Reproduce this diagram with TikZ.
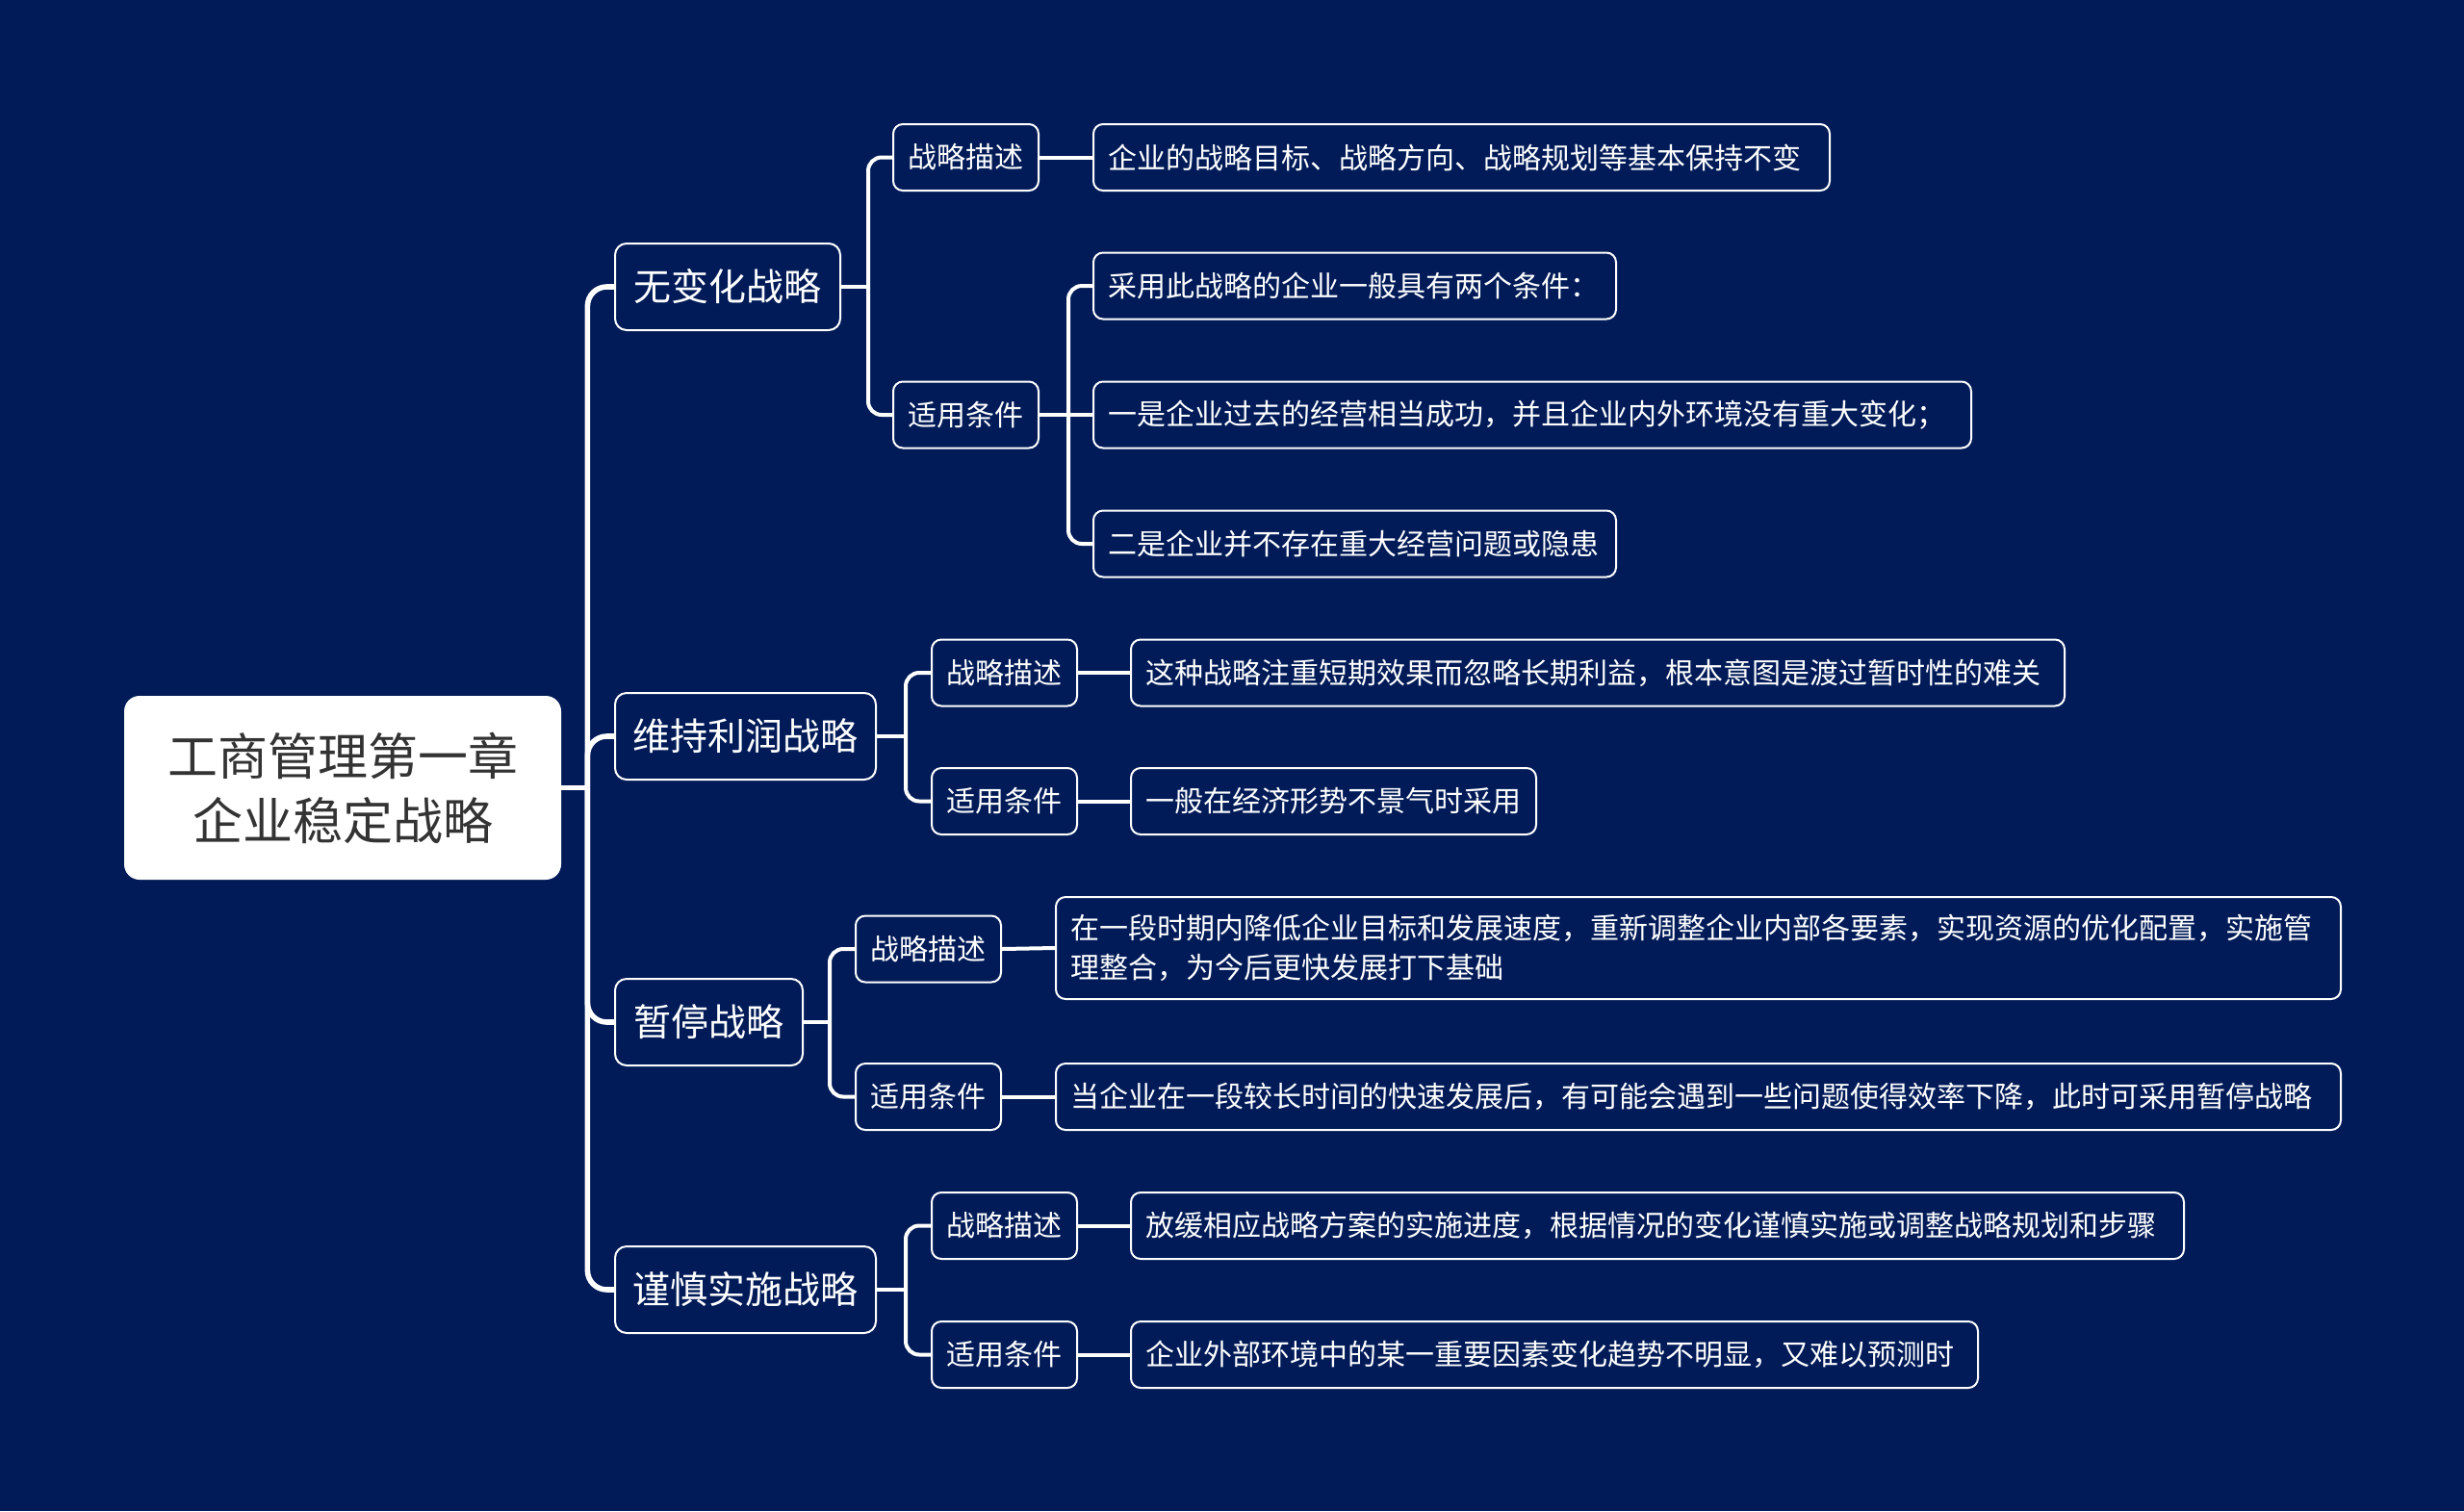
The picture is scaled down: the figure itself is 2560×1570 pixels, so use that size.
\documentclass[tikz,border=0pt]{standalone}
\usepackage{fontspec}
\setmainfont{Noto Sans CJK SC}
\definecolor{bg}{RGB}{0,27,88}
\definecolor{rootgray}{RGB}{51,51,51}
\newcommand\lftxt[2]{\makebox[#1][l]{#2}}
\begin{document}
\begin{tikzpicture}[x=0.5pt,y=-0.5pt,
  rootbox/.style={fill=white, rounded corners=8pt, text=rootgray,
    font=\fontsize{26}{33.5}\selectfont, align=center,
    minimum width=227pt, minimum height=95.5pt, inner sep=0pt},
  lone/.style={draw=white, line width=1pt, fill=bg, rounded corners=6pt, text=white,
    font=\fontsize{19.5}{24}\selectfont, minimum height=45pt, inner xsep=0pt, anchor=west},
  ltwo/.style={draw=white, line width=1pt, fill=bg, rounded corners=5pt, text=white,
    font=\fontsize{15}{18}\selectfont, minimum width=75.5pt, minimum height=34.5pt,
    inner xsep=0pt, anchor=west},
  leaf/.style={draw=white, line width=1pt, fill=bg, rounded corners=5pt, text=white,
    font=\fontsize{15}{20.5}\selectfont, minimum height=34.5pt, inner xsep=7.5pt, anchor=west},
  trunk/.style={draw=white, line width=2.8pt},
  br/.style={draw=white, line width=2pt}
]
\fill[bg] (0,0) rectangle (2560,1570);
\useasboundingbox (0,0) rectangle (2560,1570);

% root
\node[rootbox] (root) at (356,818.5) {工商管理第一章\\企业稳定战略};

% level 1
\node[lone, minimum width=117pt] (n1) at (638,298) {无变化战略};
\node[lone, minimum width=135.5pt] (n2) at (638,765) {维持利润战略};
\node[lone, minimum width=97.5pt] (n3) at (638,1062) {暂停战略};
\node[lone, minimum width=135.5pt] (n4) at (638,1340) {谨慎实施战略};

% level 2
\node[ltwo] (a1) at (927,163.5) {战略描述};
\node[ltwo] (a2) at (927,431) {适用条件};
\node[ltwo] (b1) at (967,699) {战略描述};
\node[ltwo] (b2) at (967,832.5) {适用条件};
\node[ltwo] (c1) at (888,986) {战略描述};
\node[ltwo] (c2) at (888,1139.5) {适用条件};
\node[ltwo] (d1) at (967,1273.5) {战略描述};
\node[ltwo] (d2) at (967,1407.5) {适用条件};

% leaves
\node[leaf] (a1a) at (1135,163.5) {\lftxt{367.5pt}{企业的战略目标、战略方向、战略规划等基本保持不变}};
\node[leaf] (a2a) at (1135,297) {\lftxt{256.5pt}{采用此战略的企业一般具有两个条件：}};
\node[leaf] (a2b) at (1135,431) {\lftxt{441pt}{一是企业过去的经营相当成功，并且企业内外环境没有重大变化；}};
\node[leaf] (a2c) at (1135,565) {\lftxt{256.5pt}{二是企业并不存在重大经营问题或隐患}};
\node[leaf] (b1a) at (1174,699) {\lftxt{470pt}{这种战略注重短期效果而忽略长期利益，根本意图是渡过暂时性的难关}};
\node[leaf] (b2a) at (1174,832.5) {\lftxt{195.5pt}{一般在经济形势不景气时采用}};
\node[leaf, minimum height=53pt, align=left, text width=652.5pt] (c1a) at (1096,985)
  {在一段时期内降低企业目标和发展速度，重新调整企业内部各要素，实现资源的优化配置，实施管\\理整合，为今后更快发展打下基础};
\node[leaf] (c2a) at (1096,1139.5) {\lftxt{652.5pt}{当企业在一段较长时间的快速发展后，有可能会遇到一些问题使得效率下降，此时可采用暂停战略}};
\node[leaf] (d1a) at (1174,1273.5) {\lftxt{532pt}{放缓相应战略方案的实施进度，根据情况的变化谨慎实施或调整战略规划和步骤}};
\node[leaf] (d2a) at (1174,1407.5) {\lftxt{425pt}{企业外部环境中的某一重要因素变化趋势不明显，又难以预测时}};

% connectors: root to level 1
\path (root.east) ++(27,0) coordinate (j0);
\draw[trunk] (root.east) -- (j0);
\foreach \c in {n1,n2,n3,n4} \draw[trunk, rounded corners=10pt] (j0) |- (\c.west);

% level 1 to level 2
\path (n1.east) ++(28,0) coordinate (j1);
\draw[br] (n1.east) -- (j1);
\draw[br, rounded corners=7pt] (j1) |- (a1.west);
\draw[br, rounded corners=7pt] (j1) |- (a2.west);

\path (n2.east) ++(30,0) coordinate (j2);
\draw[br] (n2.east) -- (j2);
\draw[br, rounded corners=7pt] (j2) |- (b1.west);
\draw[br, rounded corners=7pt] (j2) |- (b2.west);

\path (n3.east) ++(27,0) coordinate (j3);
\draw[br] (n3.east) -- (j3);
\draw[br, rounded corners=7pt] (j3) |- (c1.west);
\draw[br, rounded corners=7pt] (j3) |- (c2.west);

\path (n4.east) ++(30,0) coordinate (j4);
\draw[br] (n4.east) -- (j4);
\draw[br, rounded corners=7pt] (j4) |- (d1.west);
\draw[br, rounded corners=7pt] (j4) |- (d2.west);

% level 2 to leaves
\draw[br] (a1.east) -- (a1a.west);
\path (a2.east) ++(30,0) coordinate (j5);
\draw[br] (a2.east) -- (a2b.west);
\draw[br, rounded corners=7pt] (j5) |- (a2a.west);
\draw[br, rounded corners=7pt] (j5) |- (a2c.west);
\draw[br] (b1.east) -- (b1a.west);
\draw[br] (b2.east) -- (b2a.west);
\draw[br] (c1.east) -- (c1a.west);
\draw[br] (c2.east) -- (c2a.west);
\draw[br] (d1.east) -- (d1a.west);
\draw[br] (d2.east) -- (d2a.west);
\end{tikzpicture}
\end{document}
